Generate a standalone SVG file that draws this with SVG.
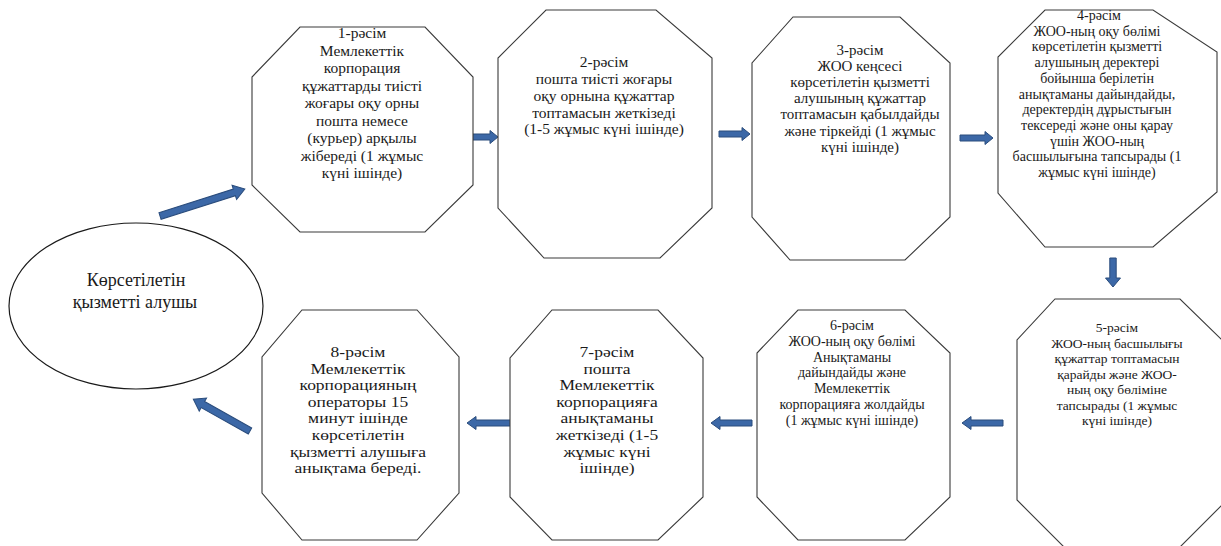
<svg xmlns="http://www.w3.org/2000/svg" width="1221" height="546" viewBox="0 0 1221 546" font-family="'Liberation Serif', 'Times New Roman', 'DejaVu Serif', serif">
<style>
.bg{fill:#ffffff}
.oct{fill:#ffffff;stroke:#3a3a3a;stroke-width:1.1}
.ell{fill:#ffffff;stroke:#1a1a1a;stroke-width:1.2}
.t{font-family:'Liberation Serif','Times New Roman','DejaVu Serif',serif;font-size:15.5px;fill:#1a1a1a;text-anchor:middle}
.t3{font-size:15px}
.t4{font-size:14px}
.t5{font-size:13.5px}
.t6{font-size:14px}
.te{font-family:'Liberation Serif','Times New Roman','DejaVu Serif',serif;font-size:18px;fill:#1a1a1a;text-anchor:middle}
.arr{fill:#3c68a7;stroke:#2a4c7c;stroke-width:1}
</style>
<rect class="bg" x="0" y="0" width="1221" height="546"/>
<g id="connectors">
<polygon class="arr" points="0,-3.5 78,-3.5 78,-7.5 89,0 78,7.5 78,3.5 0,3.5" transform="translate(160,216) rotate(-17.6)"/>
<polygon class="arr" points="0,-3 20,-3 20,-6.5 28,0 20,6.5 20,3 0,3" transform="translate(470,137)"/>
<polygon class="arr" points="0,-3 23,-3 23,-6.5 31,0 23,6.5 23,3 0,3" transform="translate(719,134)"/>
<polygon class="arr" points="0,-3 25,-3 25,-6.5 33,0 25,6.5 25,3 0,3" transform="translate(960,138)"/>
<polygon class="arr" points="0,-3.2 20,-3.2 20,-7.5 29,0 20,7.5 20,3.2 0,3.2" transform="translate(1113,258) rotate(90)"/>
<polygon class="arr" points="0,-3 32,-3 32,-6.5 41,0 32,6.5 32,3 0,3" transform="translate(1003,423) rotate(180)"/>
<polygon class="arr" points="0,-3 32,-3 32,-6.5 41,0 32,6.5 32,3 0,3" transform="translate(752,423) rotate(180)"/>
<polygon class="arr" points="0,-3 37,-3 37,-6.5 46,0 37,6.5 37,3 0,3" transform="translate(513,423) rotate(180)"/>
<polygon class="arr" points="0,-3.5 54,-3.5 54,-7.5 65,0 54,7.5 54,3.5 0,3.5" transform="translate(250,431) rotate(-150.7)"/>
</g>
<g id="client">
<ellipse class="ell" cx="136" cy="306" rx="127" ry="83"/>
<text class="te" x="136" y="286">Көрсетілетін</text>
<text class="te" x="135" y="308">қызметті алушы</text>
</g>
<g id="step1">
<polygon class="oct" points="300,27 425,27 473,77 473,185 425,232 300,232 252,185 252,77"/>
<text class="t"><tspan x="362" y="38">1-рәсім</tspan><tspan x="362" y="55.5">Мемлекеттік</tspan><tspan x="362" y="73">корпорация</tspan><tspan x="362" y="90.5">құжаттарды тиісті</tspan><tspan x="362" y="108">жоғары оқу орны</tspan><tspan x="362" y="125.5">пошта немесе</tspan><tspan x="362" y="143">(курьер) арқылы</tspan><tspan x="362" y="160.5">жібереді (1 жұмыс</tspan><tspan x="362" y="178">күні ішінде)</tspan></text>
</g>
<g id="step2">
<polygon class="oct" points="546,10 656,10 712,58 712,208 660,258 544,258 498,208 498,58"/>
<text class="t"><tspan x="604" y="67">2-рәсім</tspan><tspan x="604" y="84">пошта тиісті жоғары</tspan><tspan x="604" y="101">оқу орнына құжаттар</tspan><tspan x="604" y="118">топтамасын жеткізеді</tspan><tspan x="604" y="134">(1-5 жұмыс күні ішінде)</tspan></text>
</g>
<g id="step3">
<polygon class="oct" points="793,17 900,17 950,63 950,217 905,260 790,260 752,217 752,63"/>
<text class="t t3"><tspan x="860" y="55">3-рәсім</tspan><tspan x="860" y="71">ЖОО кеңсесі</tspan><tspan x="860" y="87">көрсетілетін қызметті</tspan><tspan x="860" y="103">алушының құжаттар</tspan><tspan x="860" y="119">топтамасын қабылдайды</tspan><tspan x="860" y="136">және тіркейді (1 жұмыс</tspan><tspan x="860" y="152">күні ішінде)</tspan></text>
</g>
<g id="step4">
<polygon class="oct" points="1045,10 1153,10 1217,52 1217,192 1153,247 1045,247 998,193 998,57"/>
<text class="t t4"><tspan x="1099" y="20">4-рәсім</tspan><tspan x="1097" y="35.7">ЖОО-ның оқу бөлімі</tspan><tspan x="1097" y="51.4">көрсетілетін қызметті</tspan><tspan x="1097" y="67.1">алушының деректері</tspan><tspan x="1097" y="82.8">бойынша берілетін</tspan><tspan x="1097" y="98.5">анықтаманы дайындайды,</tspan><tspan x="1097" y="114.2">деректердің дұрыстығын</tspan><tspan x="1097" y="129.9">тексереді және оны қарау</tspan><tspan x="1097" y="145.6">үшін ЖОО-ның</tspan><tspan x="1097" y="161.3">басшылығына тапсырады (1</tspan><tspan x="1097" y="177">жұмыс күні ішінде)</tspan></text>
</g>
<g id="step5">
<polygon class="oct" points="1055,299 1180,299 1222,340 1222,505 1180,547 1064,547 1017,500 1017,340"/>
<text class="t t5"><tspan x="1117" y="332">5-рәсім</tspan><tspan x="1117" y="347.5">ЖОО-ның басшылығы</tspan><tspan x="1117" y="363">құжаттар топтамасын</tspan><tspan x="1117" y="378.5">қарайды және ЖОО-</tspan><tspan x="1117" y="394">ның оқу бөліміне</tspan><tspan x="1117" y="409.5">тапсырады (1 жұмыс</tspan><tspan x="1117" y="425">күні ішінде)</tspan></text>
</g>
<g id="step6">
<polygon class="oct" points="798,310 905,310 950,353 950,497 905,540 798,540 757,497 757,353"/>
<text class="t t6"><tspan x="852" y="330">6-рәсім</tspan><tspan x="852" y="345.8">ЖОО-ның оқу бөлімі</tspan><tspan x="852" y="361.6">Анықтаманы</tspan><tspan x="852" y="377.4">дайындайды және</tspan><tspan x="852" y="393.2">Мемлекеттік</tspan><tspan x="852" y="409">корпорацияға жолдайды</tspan><tspan x="852" y="424.8">(1 жұмыс күні ішінде)</tspan></text>
</g>
<g id="step7">
<polygon class="oct" points="552,310 658,310 703,358 703,497 658,540 552,540 510,497 510,358"/>
<text class="t" transform="translate(607,0) scale(1.13,1)"><tspan x="0" y="357">7-рәсім</tspan><tspan x="0" y="373.6">пошта</tspan><tspan x="0" y="390.2">Мемлекеттік</tspan><tspan x="0" y="406.8">корпорацияға</tspan><tspan x="0" y="423.4">анықтаманы</tspan><tspan x="0" y="440">жеткізеді (1-5</tspan><tspan x="0" y="456.6">жұмыс күні</tspan><tspan x="0" y="473.2">ішінде)</tspan></text>
</g>
<g id="step8">
<polygon class="oct" points="302,310 417,310 459,357 459,493 417,540 302,540 262,493 262,357"/>
<text class="t" transform="translate(358,0) scale(1.13,1)"><tspan x="0" y="357">8-рәсім</tspan><tspan x="0" y="373.6">Мемлекеттік</tspan><tspan x="0" y="390.2">корпорацияның</tspan><tspan x="0" y="406.8">операторы 15</tspan><tspan x="0" y="423.4">минут ішінде</tspan><tspan x="0" y="440">көрсетілетін</tspan><tspan x="0" y="456.6">қызметті алушыға</tspan><tspan x="0" y="473.2">анықтама береді.</tspan></text>
</g>
</svg>
